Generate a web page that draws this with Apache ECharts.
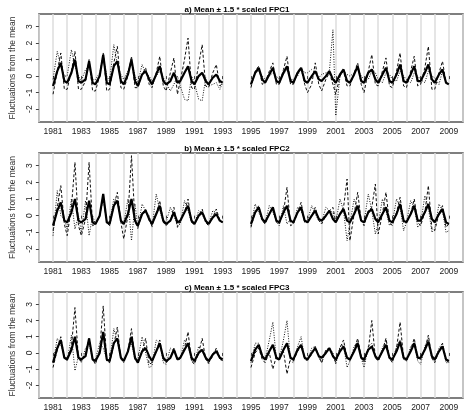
<!DOCTYPE html>
<html><head><meta charset="utf-8">
<script src="https://cdn.jsdelivr.net/npm/echarts@6/dist/echarts.min.js"></script>
<style>html,body{margin:0;padding:0;background:#fff}#c{width:474px;height:420px}</style>
</head><body><div id="c"></div>
<script>
const titles = ['a) Mean \u00b1 1.5 * scaled FPC1','b) Mean \u00b1 1.5 * scaled FPC2','c) Mean \u00b1 1.5 * scaled FPC3'];
const years1 = [1981,1982,1983,1984,1985,1986,1987,1988,1989,1990,1991,1992]; // end 1993
const years2 = [1995,1996,1997,1998,1999,2000,2001,2002,2003,2004,2005,2006,2007,2008]; // end 2009
const xTickLabels = [1981,1983,1985,1987,1989,1991,1993,1995,1997,1999,2001,2003,2005,2007,2009];
const yTicks = [-2,-1,0,1,2,3];

const meanVals = [
-0.6,0.3,0.8,-0.3, -0.4,0.2,1.0,-0.3, -0.4,-0.2,0.9,-0.4, -0.5,0.0,1.3,-0.4, -0.5,0.6,0.9,-0.3, -0.5,0.1,1.0,-0.3,
-0.6,0.1,0.3,-0.2, -0.5,0.1,0.6,-0.3, -0.5,-0.3,0.2,-0.4, -0.3,0.2,0.6,-0.3, -0.5,0.0,0.2,-0.3, -0.5,-0.1,0.1,-0.3, -0.4,
-0.5,0.2,0.5,-0.2, -0.4,0.1,0.5,-0.3, -0.4,0.2,0.6,-0.3, -0.4,0.2,0.5,-0.3, -0.4,0.0,0.3,-0.2, -0.3,0.0,0.3,-0.2,
-0.4,0.1,0.4,-0.3, -0.4,0.1,0.6,-0.3, -0.4,0.2,0.4,-0.2, -0.4,0.1,0.5,-0.3, -0.4,0.1,0.7,-0.3, -0.4,0.1,0.6,-0.3,
-0.3,0.2,0.7,-0.2, -0.4,0.1,0.4,-0.4, -0.5];

const aDashed = [
-1.1,0.3,1.4,-0.8, -0.8,0.3,1.5,-0.8, -0.8,-0.3,1.0,-0.9, -0.9,0.0,1.4,-0.9, -0.8,0.8,1.8,-0.7, -0.8,0.0,1.2,-0.7,
-0.7,0.1,0.5,-0.5, -0.7,0.2,1.2,-0.6, -0.9,0.2,1.1,-1.1, -0.3,1.0,2.3,-0.7, -0.8,0.7,1.9,-0.6, -0.7,0.2,0.7,-0.6, -0.4,
-0.7,0.3,0.6,-0.5, -0.4,0.3,0.8,-0.5, -0.5,0.4,1.2,-0.5, -0.5,0.3,0.5,-0.5, -1.0,-0.5,0.8,-0.5, -0.9,-0.2,0.2,-0.5,
-1.1,0.0,0.3,-0.6, -0.6,0.2,0.8,-0.5, -1.0,0.3,1.3,-0.5, -0.6,0.3,1.1,-0.6, -0.7,0.3,1.4,-0.6, -0.7,0.3,1.2,-0.6,
-0.5,0.5,1.8,-0.8, -0.8,0.2,0.9,-0.4, -0.5];
const aDotted = [
-0.2,1.5,0.6,0.0, 0.0,1.6,0.6,0.0, -0.3,0.4,0.6,-0.2, -0.2,0.2,1.2,0.0, -0.3,1.9,0.7,0.1, -0.2,0.3,0.9,0.0,
-0.4,0.7,0.2,0.0, -0.3,0.0,0.3,-0.1, -0.4,-0.9,-0.5,0.0, -0.6,-1.4,-1.5,0.0, -0.4,-1.4,-1.5,-0.1, -0.6,-0.5,-0.4,-0.8, -0.4,
-0.5,0.2,0.3,0.0, -0.2,0.0,0.2,0.0, -0.2,0.1,0.4,-0.2, -0.2,0.0,0.5,0.2, 0.2,0.4,0.2,-0.1, 0.1,0.2,0.3,2.8,
-2.4,0.0,0.3,0.1, 0.0,0.2,0.4,0.0, -0.2,-0.2,0.3,0.2, -0.2,-0.4,0.2,0.1, -0.2,-0.3,0.3,0.0, -0.2,-0.4,0.2,0.0,
-0.2,-0.4,0.3,0.0, -0.1,-0.5,0.3,-0.4, -0.5];

const bDashed = [
-0.9,0.5,1.8,-0.5, -1.2,0.5,3.2,-0.6, -1.2,-0.2,3.2,-0.6, -0.5,0.0,1.1,-0.4, -0.6,0.6,1.4,-0.4, -1.4,0.0,3.6,-0.4,
-0.7,0.1,0.4,-0.3, -0.6,0.1,0.9,-0.4, -0.6,-0.3,0.5,-0.7, -0.3,0.2,1.0,-0.4, -0.5,0.0,0.4,-0.4, -0.6,-0.1,0.4,-0.3, -0.4,
-0.7,0.2,0.6,-0.3, -0.5,0.1,0.5,-0.4, -0.5,0.2,1.7,-0.6, -0.5,0.2,0.8,-0.4, -0.4,0.0,0.5,-0.3, -0.5,0.0,0.3,0.5,
-0.4,0.1,0.5,2.2, -1.5,0.1,1.4,-0.3, -0.6,0.3,0.5,1.9, -1.1,0.1,1.4,-0.4, -0.6,0.2,1.1,-0.4, -0.4,0.1,1.0,-0.4,
-0.6,0.2,1.8,-0.8, -0.9,0.1,0.6,-0.7, -0.5];
const bDotted = [
-1.2,1.5,0.0,-0.2, -0.8,1.0,-0.8,0.0, -1.0,0.9,-1.2,0.0, -0.5,0.0,1.0,-0.3, -0.4,1.0,0.9,-0.3, -0.5,1.0,-1.5,0.7,
-0.8,0.7,0.3,0.0, -0.7,1.3,0.3,-0.4, -0.4,0.5,0.0,-0.6, -0.5,0.9,0.3,-0.4, -0.5,0.3,0.1,-0.4, -0.5,0.3,0.2,-0.3, -0.4,
-0.6,0.7,0.2,-0.3, -0.4,0.6,0.2,-0.3, -0.6,0.6,-0.5,-0.2, -0.5,0.5,0.3,-0.3, -0.3,0.6,0.1,-0.3, -0.4,0.5,0.3,0.2,
-0.4,1.0,0.3,-1.5, -0.5,1.0,0.4,-0.3, -0.4,1.3,0.3,-1.1, -0.5,1.0,0.3,-0.6, -0.4,1.0,0.5,-0.9, -0.4,0.9,0.5,-0.7,
-0.5,1.2,0.5,-1.0, -0.8,0.7,0.3,-1.0, -0.9];

const cDashed = [
-0.9,0.2,1.0,-0.3, -0.3,0.4,2.8,-0.4, -0.5,0.0,0.9,-0.4, -0.7,0.2,2.9,-0.5, -0.6,0.5,1.6,-0.4, -0.5,0.1,1.5,-0.4,
-0.6,0.1,0.9,-0.7, -0.6,0.1,0.8,-0.4, -0.6,-0.3,0.3,-0.4, -0.3,0.3,1.3,-0.5, -0.7,0.0,0.9,-0.4, -0.6,-0.2,0.3,-0.3, -0.5,
-0.9,0.0,0.3,-0.4, -0.6,0.0,-1.0,-0.2, -0.4,0.1,-1.3,-0.3, -0.5,0.1,0.4,-0.3, -0.4,-0.1,0.4,-0.2, -0.6,0.2,0.3,-0.1,
-0.6,0.3,0.8,-0.3, -0.5,0.2,0.9,-0.2, -0.6,0.2,2.0,-0.3, -0.5,0.1,0.9,-0.3, -0.6,0.3,1.9,-0.3, -0.5,0.2,0.9,-0.3,
-0.4,0.2,1.1,-0.3, -0.6,0.1,0.6,-0.4, -0.6];
const cDotted = [
-0.6,0.9,0.5,-0.2, -0.5,1.1,-1.1,-0.2, -0.6,0.3,0.6,-0.4, -0.4,0.6,0.3,-0.4, -0.6,1.5,0.7,-0.3, -0.6,0.2,0.6,-0.4,
-0.4,1.0,0.0,-0.9, -0.8,0.8,0.6,-0.6, -0.7,0.3,0.1,-0.4, -0.4,0.8,0.5,-0.5, -0.6,0.4,0.1,-0.3, -0.7,0.0,0.2,-0.4, -0.5,
-0.6,0.6,0.6,-0.3, -0.4,0.8,1.9,-0.4, -0.4,0.8,2.0,-0.5, -0.6,0.4,1.0,-0.4, -0.5,0.3,0.4,-0.3, -0.6,0.1,0.3,0.0,
-0.7,0.4,0.5,-0.9, -0.5,0.4,0.7,-0.3, -0.9,0.4,0.6,-0.3, -0.4,0.3,0.8,-0.4, -0.5,0.4,0.8,-0.4, -0.5,0.4,0.6,-0.5,
-0.7,0.4,0.9,-0.4, -0.5,0.3,0.6,-0.6, -0.6];

const panels = [[aDashed,aDotted],[bDashed,bDotted],[cDashed,cDotted]];
const offs = [0,0.3,0.55,0.8];

function build(arr){
  const pts=[]; let k=0;
  years1.forEach(y=>offs.forEach(o=>pts.push([y+o,arr[k++]])));
  pts.push([years1[years1.length-1]+1,arr[k++]]);
  pts.push([1994,null]);
  years2.forEach(y=>offs.forEach(o=>pts.push([y+o,arr[k++]])));
  pts.push([years2[years2.length-1]+1,arr[k++]]);
  return pts;
}

const tops=[14,153,292], hs=[108,109,106];
const grid=[],xAxis=[],yAxis=[],series=[],title=[];
const font='Liberation Sans';
for(let i=0;i<3;i++){
  grid.push({left:33,right:11,top:tops[i],height:hs[i],show:true,borderColor:'#555',borderWidth:1.5,backgroundColor:'transparent'});
  title.push({text:titles[i],left:'center',top:tops[i]-13,textStyle:{fontSize:8,fontWeight:'bold',fontFamily:font,color:'#000'}});
  xAxis.push({type:'value',gridIndex:i,min:1980,max:2010,interval:1,
    axisLine:{show:false},
    axisTick:{show:true,customValues:xTickLabels,length:3,lineStyle:{color:'#444'}},
    axisLabel:{customValues:xTickLabels,formatter:v=>String(v),fontSize:8.5,color:'#222',margin:5,fontFamily:font},
    splitLine:{show:false}});
  xAxis.push({type:'value',gridIndex:i,min:1980,max:2010,interval:1,
    axisLine:{show:false},axisTick:{show:false},axisLabel:{show:false},
    splitLine:{show:true,lineStyle:{color:'#dcdcdc',width:1.5}}});
  yAxis.push({type:'value',gridIndex:i,min:-2.78,max:3.76,
    name:'Fluctuations from the mean',nameLocation:'middle',nameGap:20,nameTextStyle:{fontSize:8.5,color:'#333',fontFamily:font},
    axisLine:{show:false},
    axisTick:{show:true,customValues:yTicks,length:3,lineStyle:{color:'#444'}},
    axisLabel:{customValues:yTicks,fontSize:8.5,color:'#222',rotate:90,margin:5,fontFamily:font},
    splitLine:{show:false}});
  const common={type:'line',xAxisIndex:2*i,yAxisIndex:i,symbol:'none',silent:true,connectNulls:false,animation:false};
  series.push(Object.assign({},common,{data:build(panels[i][0]),lineStyle:{color:'#111',width:1,type:[3,2]},z:3}));
  series.push(Object.assign({},common,{data:build(panels[i][1]),lineStyle:{color:'#111',width:1,type:[1,1.5]},z:3}));
  series.push(Object.assign({},common,{data:build(meanVals),lineStyle:{color:'#000',width:2.2},z:4}));
}
const chart=echarts.init(document.getElementById('c'));
chart.setOption({animation:false,backgroundColor:'#fff',title,grid,xAxis,yAxis,series});
</script></body></html>
